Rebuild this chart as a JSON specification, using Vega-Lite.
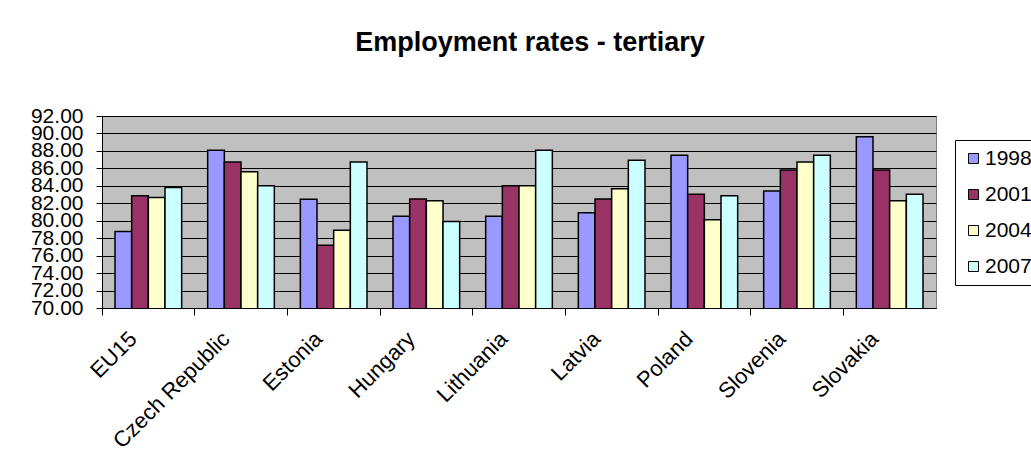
{
  "$schema": "https://vega.github.io/schema/vega-lite/v6.json",
  "autosize": "none",
  "width": 834,
  "height": 192,
  "padding": {"left": 102, "top": 116, "right": 95, "bottom": 162},
  "background": "white",
  "title": {
    "text": "Employment rates - tertiary",
    "font": "Liberation Sans",
    "fontSize": 27,
    "fontWeight": "bold",
    "color": "black",
    "anchor": "middle",
    "baseline": "alphabetic",
    "offset": 27,
    "dx": 11
  },
  "data": {
    "values": [
      {"country": "EU15", "year": "1998", "rate": 78.76},
      {"country": "EU15", "year": "2001", "rate": 82.85},
      {"country": "EU15", "year": "2004", "rate": 82.66},
      {"country": "EU15", "year": "2007", "rate": 83.8},
      {"country": "Czech Republic", "year": "1998", "rate": 88.08},
      {"country": "Czech Republic", "year": "2001", "rate": 86.74},
      {"country": "Czech Republic", "year": "2004", "rate": 85.6},
      {"country": "Czech Republic", "year": "2007", "rate": 84.0},
      {"country": "Estonia", "year": "1998", "rate": 82.47},
      {"country": "Estonia", "year": "2001", "rate": 77.2},
      {"country": "Estonia", "year": "2004", "rate": 78.92},
      {"country": "Estonia", "year": "2007", "rate": 86.74},
      {"country": "Hungary", "year": "1998", "rate": 80.5},
      {"country": "Hungary", "year": "2001", "rate": 82.5},
      {"country": "Hungary", "year": "2004", "rate": 82.28},
      {"country": "Hungary", "year": "2007", "rate": 79.9},
      {"country": "Lithuania", "year": "1998", "rate": 80.5},
      {"country": "Lithuania", "year": "2001", "rate": 84.0},
      {"country": "Lithuania", "year": "2004", "rate": 84.0},
      {"country": "Lithuania", "year": "2007", "rate": 88.08},
      {"country": "Latvia", "year": "1998", "rate": 80.9},
      {"country": "Latvia", "year": "2001", "rate": 82.5},
      {"country": "Latvia", "year": "2004", "rate": 83.65},
      {"country": "Latvia", "year": "2007", "rate": 86.93},
      {"country": "Poland", "year": "1998", "rate": 87.5},
      {"country": "Poland", "year": "2001", "rate": 83.04},
      {"country": "Poland", "year": "2004", "rate": 80.1},
      {"country": "Poland", "year": "2007", "rate": 82.85},
      {"country": "Slovenia", "year": "1998", "rate": 83.42},
      {"country": "Slovenia", "year": "2001", "rate": 85.8},
      {"country": "Slovenia", "year": "2004", "rate": 86.74},
      {"country": "Slovenia", "year": "2007", "rate": 87.5},
      {"country": "Slovakia", "year": "1998", "rate": 89.63},
      {"country": "Slovakia", "year": "2001", "rate": 85.8},
      {"country": "Slovakia", "year": "2004", "rate": 82.28},
      {"country": "Slovakia", "year": "2007", "rate": 83.04}
    ]
  },
  "mark": {"type": "bar", "stroke": "black", "strokeWidth": 1.5, "clip": true},
  "encoding": {
    "x": {
      "field": "country",
      "type": "nominal",
      "sort": null,
      "scale": {"paddingInner": 0, "paddingOuter": 0},
      "axis": {
        "title": null,
        "labelAngle": -45,
        "labelAlign": "right",
        "labelBaseline": "middle",
        "labelFont": "Liberation Sans",
        "labelFontSize": 22,
        "labelColor": "black",
        "labelPadding": 20,
        "labelOffset": -15,
        "bandPosition": 0,
        "tickSize": 7,
        "tickColor": "black",
        "domainColor": "black",
        "labelOverlap": false
      }
    },
    "xOffset": {
      "field": "year",
      "type": "nominal",
      "scale": {"paddingInner": 0, "paddingOuter": 0.78}
    },
    "y": {
      "field": "rate",
      "type": "quantitative",
      "scale": {"domain": [70, 92], "zero": false, "nice": false},
      "axis": {
        "title": null,
        "values": [70, 72, 74, 76, 78, 80, 82, 84, 86, 88, 90, 92],
        "format": ".2f",
        "labelFont": "Liberation Sans",
        "labelFontSize": 21,
        "labelColor": "black",
        "labelPadding": 13,
        "tickSize": 6,
        "tickColor": "black",
        "domainColor": "black",
        "grid": true,
        "gridColor": "black",
        "gridWidth": 1,
        "labelOverlap": false
      }
    },
    "color": {
      "field": "year",
      "type": "nominal",
      "scale": {
        "domain": ["1998", "2001", "2004", "2007"],
        "range": ["#9999FF", "#993366", "#FFFFCC", "#CCFFFF"]
      },
      "legend": {
        "title": null,
        "orient": "none",
        "legendX": 853,
        "legendY": 24,
        "strokeColor": "black",
        "padding": 8,
        "fillColor": "white",
        "symbolType": "square",
        "symbolSize": 100,
        "symbolStrokeColor": "black",
        "symbolStrokeWidth": 1,
        "symbolOpacity": 1,
        "labelFont": "Liberation Sans",
        "labelFontSize": 21,
        "labelColor": "black",
        "labelOffset": 1,
        "rowPadding": 14
      }
    }
  },
  "config": {
    "view": {"fill": "#C0C0C0", "stroke": "#808080", "strokeWidth": 1}
  }
}
